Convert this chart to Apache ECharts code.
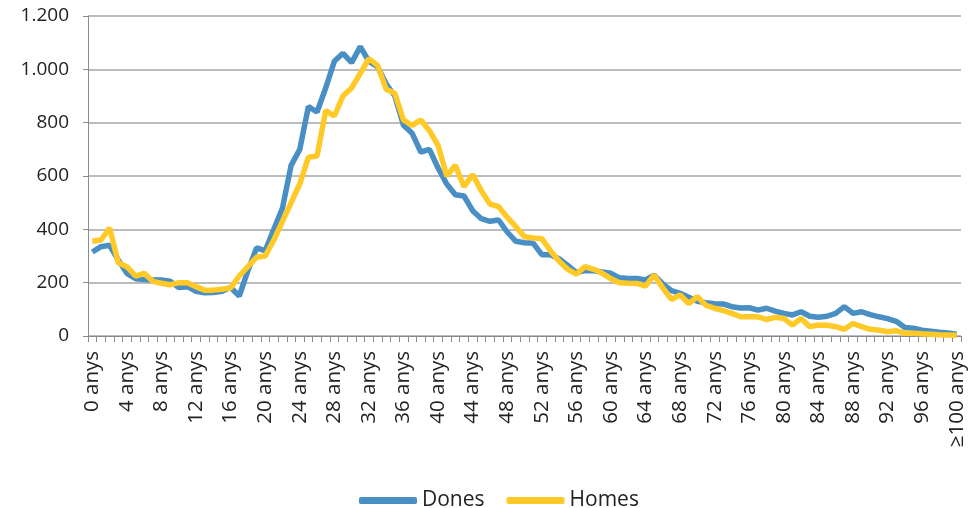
<!DOCTYPE html>
<html>
<head>
<meta charset="utf-8">
<script src="https://cdn.jsdelivr.net/npm/echarts@6/dist/echarts.min.js"></script>
<style>
  html, body { margin: 0; padding: 0; background: #fff; }
  #chart { width: 969px; height: 508px; }
</style>
</head>
<body>
<div id="chart"></div>
<script>
// edats 0..99 + ≥100
const edats = []
for (let i = 0; i < 100; i++) edats.push(i + ' anys')
edats.push('≥100 anys')

const dones = [
  315, 335, 340, 285, 235, 215, 212, 210, 210, 205,
  182, 185, 168, 162, 163, 168, 182, 150, 245, 330,
  320, 400, 480, 640, 700, 860, 840, 930, 1030, 1060,
  1025, 1085, 1030, 1010, 945, 900, 790, 760, 690, 700,
  630, 570, 530, 525, 470, 440, 430, 435, 390, 355,
  350, 348, 305, 305, 290, 265, 238, 245, 245, 240,
  235, 218, 216, 216, 210, 228, 195, 170, 160, 145,
  130, 125, 121, 120, 110, 105, 106, 97, 104, 93,
  85, 79, 91, 74, 70, 74, 85, 110, 85, 91,
  80, 72, 65, 55, 32, 29, 22, 18, 14, 11,
  7
]

const homes = [
  355, 360, 405, 275, 260, 225, 235, 205, 198, 192,
  200, 200, 185, 172, 172, 175, 180, 225, 260, 295,
  300, 360, 430, 500, 570, 670, 675, 845, 825, 900,
  930, 985, 1040, 1015, 925, 910, 810, 790, 810, 770,
  715, 600, 640, 560, 605, 545, 495, 485, 445, 410,
  372, 368, 365, 320, 280, 250, 232, 260, 250, 235,
  215, 200, 198, 197, 187, 229, 180, 137, 154, 122,
  147, 115, 104, 95, 85, 72, 72, 72, 62, 70,
  66, 41, 66, 35, 41, 40, 35, 25, 47, 35,
  25, 22, 16, 20, 10, 10, 8, 7, 5, 4,
  3
]

const yTicks = [0, 200, 400, 600, 800, 1000, 1200]

const fmtMiles = (v) => String(v).replace(/\B(?=(\d{3})+(?!\d))/g, '.')

const chart = echarts.init(document.getElementById('chart'))
const font = '"Open Sans", "Noto Sans", sans-serif'

chart.setOption({
  animation: false,
  backgroundColor: '#fff',
  textStyle: { fontFamily: font },
  legend: {
    data: ['Dones', 'Homes'],
    left: 354,
    top: 485,
    itemWidth: 58,
    itemHeight: 7,
    itemGap: 22,
    icon: 'roundRect',
    textStyle: { fontSize: 21, color: '#222', fontFamily: font }
  },
  grid: { left: 88, right: 8, top: 16, bottom: 172, containLabel: false },
  xAxis: {
    type: 'category',
    data: edats,
    boundaryGap: true,
    axisLine: { lineStyle: { color: '#8c8c8c', width: 1 } },
    axisTick: { show: true, interval: 0, length: 6, lineStyle: { color: '#8c8c8c' } },
    axisLabel: {
      interval: 3,
      rotate: 90,
      margin: 15,
      fontSize: 20.5,
      color: '#222',
      fontFamily: font
    },
    splitLine: { show: false }
  },
  yAxis: {
    type: 'value',
    min: yTicks[0],
    max: yTicks[yTicks.length - 1],
    interval: 200,
    axisLine: { show: true, lineStyle: { color: '#8c8c8c', width: 1 } },
    axisTick: { show: true, length: 5, lineStyle: { color: '#8c8c8c' } },
    axisLabel: {
      margin: 19,
      fontSize: 19,
      color: '#222',
      fontFamily: font,
      formatter: fmtMiles
    },
    splitLine: { lineStyle: { color: '#a6a6a6', width: 1.5 } }
  },
  series: [
    {
      name: 'Dones',
      type: 'line',
      data: dones,
      showSymbol: false,
      symbol: 'none',
      lineStyle: { color: '#4a8fc3', width: 5.5 },
      itemStyle: { color: '#4a8fc3' }
    },
    {
      name: 'Homes',
      type: 'line',
      data: homes,
      showSymbol: false,
      symbol: 'none',
      lineStyle: { color: '#ffc928', width: 5.5 },
      itemStyle: { color: '#ffc928' }
    }
  ]
})
</script>
</body>
</html>
